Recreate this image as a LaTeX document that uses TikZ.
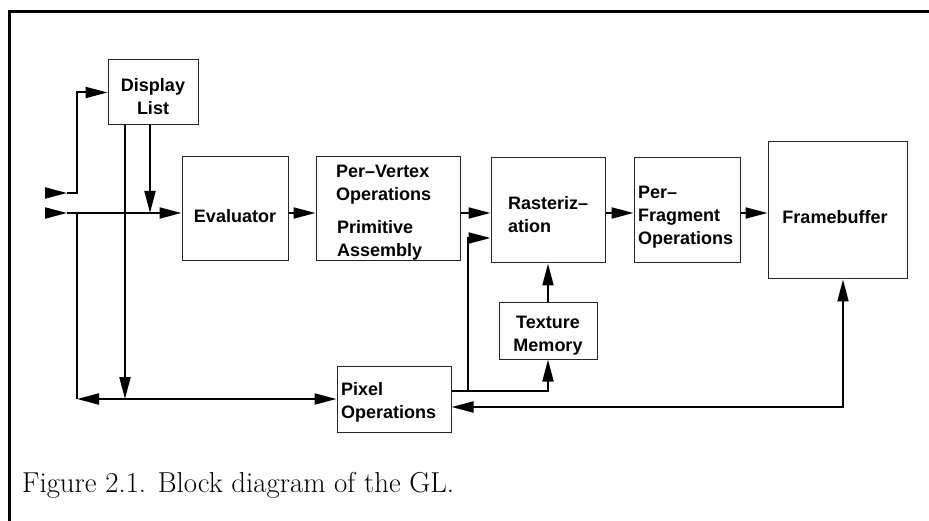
\documentclass[tikz,border=0pt]{standalone}
\usepackage{fontspec}
\newfontfamily\hv{Liberation Sans}
\usetikzlibrary{arrows.meta}
\begin{document}
\begin{tikzpicture}[x=1pt,y=-1pt,
  box/.style={draw=black!85, line width=1pt, inner sep=0pt},
  lbl/.style={font=\hv\bfseries\fontsize{18}{23}\selectfont, inner sep=0pt},
  conn/.style={line width=2pt},
  arr/.style={conn, -{Triangle[length=22pt,width=11pt]}},
  arrb/.style={conn, {Triangle[length=22pt,width=11pt]}-{Triangle[length=22pt,width=11pt]}}]
\useasboundingbox (0,0) rectangle (929,521);
% frame
\draw[line width=3pt] (9.5,530) -- (9.5,12) -- (940,12);
% boxes
\node[box, minimum width=90pt, minimum height=65pt] (disp) at (153,92.5) {};
\node[box, minimum width=106pt, minimum height=104pt] (eval) at (235,209) {};
\node[box, minimum width=144pt, minimum height=104pt] (pv) at (388,209) {};
\node[box, minimum width=114pt, minimum height=105pt] (rast) at (548,210.5) {};
\node[box, minimum width=106pt, minimum height=105pt] (pf) at (687,210.5) {};
\node[box, minimum width=139pt, minimum height=137pt] (fb) at (837.5,210.5) {};
\node[box, minimum width=98pt, minimum height=56pt] (tex) at (548,331) {};
\node[box, minimum width=114pt, minimum height=66pt] (pix) at (394,399) {};
% labels
\node[lbl, align=center] (tdisp) at (153,97) {Display\\List};
\node[lbl] (teval) at (235,216) {Evaluator};
\node[lbl, align=left, anchor=west] (tpv1) at (336,185) {Per–Vertex\\Operations};
\node[lbl, align=left, anchor=west] (tpv2) at (337,240) {Primitive\\Assembly};
\node[lbl, align=left, anchor=west] (trast) at (508,215) {Rasteriz–\\ation};
\node[lbl, align=left, anchor=west] (tpf) at (638,217) {Per–\\Fragment\\Operations};
\node[lbl] (tfb) at (835,217) {Framebuffer};
\node[lbl, align=center] (ttex) at (548,336) {Texture\\Memory};
\node[lbl, align=left, anchor=west] (tpix) at (341,402) {Pixel\\Operations};
% coordinates
\coordinate (in1) at (45,193);
\coordinate (in1e) at (67,193);
\coordinate (j1) at (77,193);
\coordinate (in2) at (45,213);
\coordinate (in2e) at (67,213);
\coordinate (j2) at (77,213);
\coordinate (j3) at (77,399);
\coordinate (xa) at (125,0);
\coordinate (xb) at (150,0);
\coordinate (yp1) at (0,391);
\coordinate (xr) at (468,0);
\coordinate (yr) at (0,238);
\coordinate (yq) at (0,407);
\coordinate (xf) at (843,0);
% connectors
\draw[arr] (in1) -- (in1e);
\draw[arr] (in1e) -- (j1) |- (disp.west);
\draw[arr] (in2) -- (in2e);
\draw[arr] (in2e) -- (eval.west |- in2);
\draw[conn] (j2) -- (j3);
\draw[arrb] (j3) -- (pix.west |- j3);
\draw[arr] (disp.south -| xa) -- (j3 -| xa);
\draw[arr] (disp.south -| xb) -- (in2 -| xb);
\draw[arr] (eval.east |- in2) -- (pv.west |- in2);
\draw[arr] (pv.east |- in2) -- (rast.west |- in2);
\draw[arr] (rast.east |- in2) -- (pf.west |- in2);
\draw[arr] (pf.east |- in2) -- (fb.west |- in2);
\draw[arr] (pix.east |- yp1) -- (tex.south |- yp1) -- (tex.south);
\draw[arr] (xr |- yp1) -- (xr |- yr) -- (rast.west |- yr);
\draw[arr] (tex.north) -- (rast.south);
\draw[arrb] (pix.east |- yq) -- (xf |- yq) -- (fb.south -| xf);
% caption
\node[anchor=base west, font=\fontsize{19}{23}\selectfont, inner sep=0pt] (cap) at (22,492) {\scalebox{1.517}{Figure 2.1. Block diagram of the GL.}};
\end{tikzpicture}
\end{document}
